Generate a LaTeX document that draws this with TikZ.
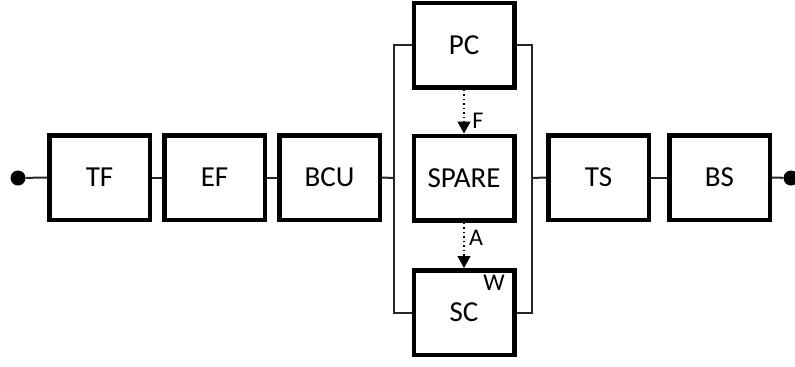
\documentclass[tikz,border=0pt]{standalone}
\usepackage{fontspec}
\setmainfont{Carlito}
\usetikzlibrary{arrows.meta}
\begin{document}
\begin{tikzpicture}[x=1bp,y=-1bp,
  blk/.style={draw=black,line width=4.5bp,fill=white,minimum width=100.5bp,minimum height=84.5bp,inner sep=0pt,
    font=\fontsize{29bp}{34bp}\selectfont},
  wire/.style={draw=black!85,line width=2bp},
  dep/.style={draw=black,line width=1.5bp,dash pattern=on 1.5bp off 3bp,-{Triangle[length=12bp,width=13bp]}},
  lbl/.style={font=\fontsize{24bp}{28bp}\selectfont,inner sep=0pt},
  term/.style={circle,fill=black,inner sep=0pt,minimum size=15bp}]
\useasboundingbox (0,0) rectangle (795,366);
\node[blk] (TF) at (99.5,177.5) {TF};
\node[blk] (EF) at (214.5,177.5) {EF};
\node[blk] (BCU) at (329.5,177.5) {BCU};
\node[blk] (PC) at (464,45) {PC};
\node[blk] (SPARE) at (464,178) {SPARE};
\node[blk] (SC) at (464,312.5) {SC};
\node[blk] (TS) at (598.5,177.5) {TS};
\node[blk] (BS) at (719.5,177.5) {BS};
\node[term] (in) at (18,178) {};
\node[term] (out) at (791,178) {};
\coordinate (LB) at (394,178);
\coordinate (RB) at (531.5,178);
\coordinate (LT) at (394,45);
\coordinate (LD) at (394,312.5);
\coordinate (RT) at (531.5,45);
\coordinate (RD) at (531.5,312.5);
\draw[wire] (in) -- (TF.west);
\draw[wire] (TF.east) -- (EF.west);
\draw[wire] (EF.east) -- (BCU.west);
\draw[wire] (BCU.east) -- (LB);
\draw[wire] (PC.west) -- (LT) -- (LD) -- (SC.west);
\draw[wire] (PC.east) -- (RT) -- (RD) -- (SC.east);
\draw[wire] (RB) -- (TS.west);
\draw[wire] (TS.east) -- (BS.west);
\draw[wire] (BS.east) -- (out);
\draw[dep] (PC.south) -- (SPARE.north);
\draw[dep] (SPARE.south) -- (SC.north);
\node[lbl] (F) at (478,121) {F};
\node[lbl] (A) at (476,237.5) {A};
\node[lbl] (W) at (494,283) {W};
\end{tikzpicture}
\end{document}
